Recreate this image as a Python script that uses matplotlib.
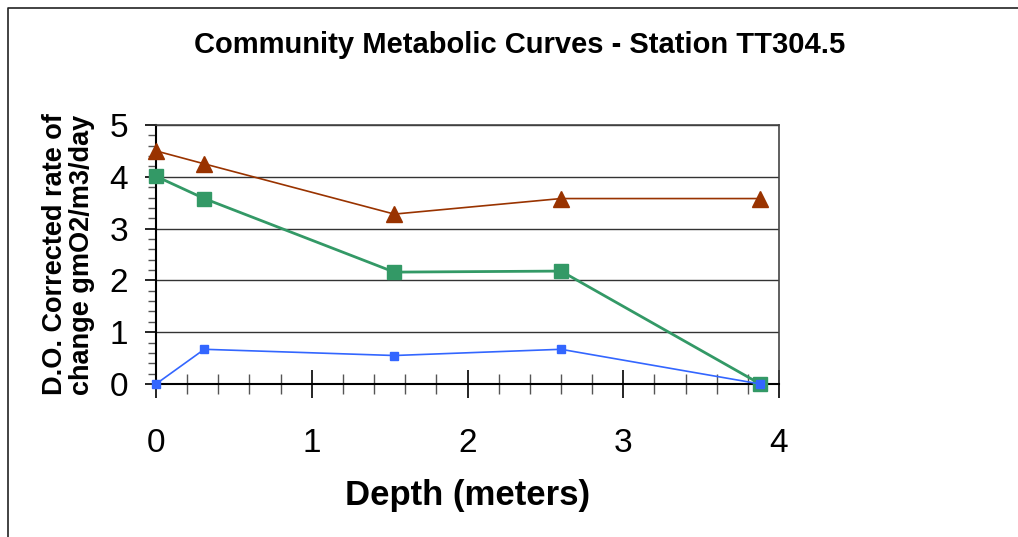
import matplotlib
matplotlib.use("Agg")
import matplotlib.pyplot as plt
from matplotlib.lines import Line2D
from matplotlib.ticker import MultipleLocator

plt.rcParams['font.family'] = ['Liberation Sans', 'DejaVu Sans']

# data
depth = [0.0, 0.31, 1.53, 2.60, 3.88]
series_brown = [4.50, 4.25, 3.28, 3.58, 3.58]
series_green = [4.01, 3.58, 2.16, 2.18, 0.0]
series_blue = [0.0, 0.67, 0.55, 0.67, 0.0]

title = "Community Metabolic Curves - Station TT304.5"
ylabel = "D.O. Corrected rate of\nchange gmO2/m3/day"
xlabel = "Depth (meters)"

W, H = 1018, 537
fig = plt.figure(figsize=(W / 100, H / 100), dpi=100)
ax = fig.add_axes([156 / W, 1 - 384 / H, (779 - 156) / W, (384 - 125) / H])

ax.plot(depth, series_brown, color='#993300', lw=1.2, marker='^', ms=11,
        zorder=3, clip_on=False)
ax.plot(depth, series_green, color='#339966', lw=2.0, marker='s', ms=10,
        zorder=4, clip_on=False)
ax.plot(depth, series_blue, color='#3366FF', lw=1.2, marker='s', ms=6,
        zorder=5, clip_on=False)

ax.set_xlim(0, 4)
ax.set_ylim(0, 5)
ax.xaxis.set_major_locator(MultipleLocator(1))
ax.xaxis.set_minor_locator(MultipleLocator(0.2))
ax.yaxis.set_major_locator(MultipleLocator(1))
ax.yaxis.set_minor_locator(MultipleLocator(0.2))

ax.grid(axis='y', which='major', color='#333333', lw=1.0)
ax.set_axisbelow(True)
for side in ['left', 'bottom']:
    ax.spines[side].set_color('black')
    ax.spines[side].set_linewidth(1.5)
for side in ['top', 'right']:
    ax.spines[side].set_color('#444444')
    ax.spines[side].set_linewidth(1.2)

ax.tick_params(axis='x', which='major', direction='inout', length=20, width=1.2,
               labelsize=24, pad=22)
ax.tick_params(axis='x', which='minor', direction='inout', length=14, width=1.0,
               color='#555555')
ax.tick_params(axis='y', which='major', direction='out', length=8, width=1.2,
               labelsize=24, pad=12)
ax.tick_params(axis='y', which='minor', direction='out', length=6, width=1.0,
               color='#555555')

ax.set_ylabel(ylabel, fontsize=19.5, fontweight='bold', linespacing=1.05)
ax.yaxis.set_label_coords(-0.098, 0.5)
ax.set_xlabel(xlabel, fontsize=25, fontweight='bold')
ax.xaxis.set_label_coords(0.5, -0.365)

fig.text(0.51, 1 - 45 / H, title, ha='center', va='center', fontsize=21,
         fontweight='bold')

# outer frame (left and top edges visible)
fig.add_artist(Line2D([8 / W, 8 / W, 1.0], [0.0, 1 - 8 / H, 1 - 8 / H],
                      transform=fig.transFigure, color='#222222', lw=1.2))

fig.savefig("out.png", dpi=100)
